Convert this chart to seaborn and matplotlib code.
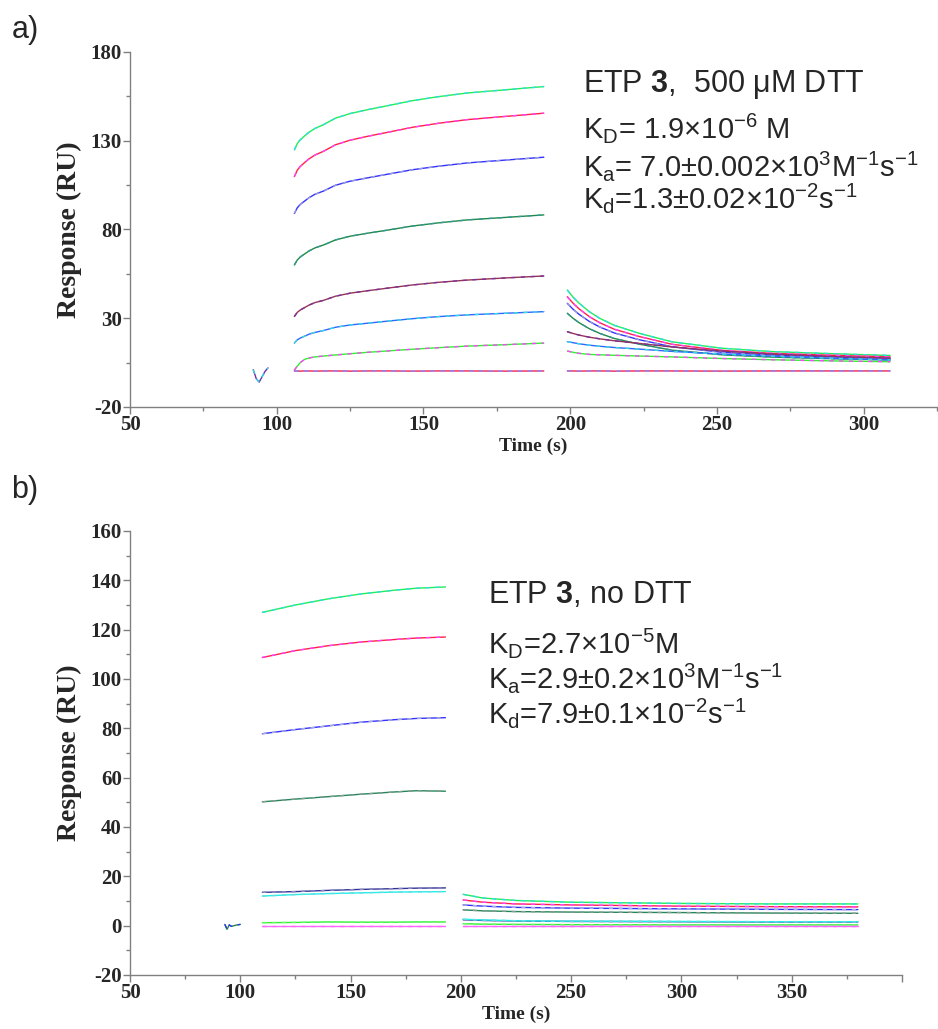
import numpy as np
import pandas as pd
import matplotlib
matplotlib.use("Agg")
import matplotlib.pyplot as plt
import seaborn as sns
from matplotlib.ticker import MultipleLocator, FixedLocator

# ---- panel a: ETP 3 with 500 uM DTT ----
t_blip_a = [92, 93, 94, 95, 96, 97]
blip_a = [1.0, -4.0, -6.0, -3.0, 0.0, 2.0]

t_assoc_a = [106, 107, 108, 109.5, 111, 113, 116, 120, 125, 131, 138, 146, 155, 165, 178, 191]
assoc_a = [
    [124.8, 128.4, 130.5, 132.7, 134.8, 136.9, 139.1, 142.7, 145.3, 147.5, 149.8, 152.5, 154.8, 156.9, 158.7, 160.5],
    [109.8, 113.4, 115.5, 117.7, 119.8, 121.9, 124.1, 127.7, 130.3, 132.5, 134.8, 137.5, 139.8, 141.9, 143.7, 145.5],
    [89.0, 92.2, 94.1, 96.0, 97.9, 99.8, 101.7, 104.9, 107.2, 109.1, 111.2, 113.6, 115.6, 117.5, 119.1, 120.7],
    [60.0, 62.8, 64.5, 66.2, 67.9, 69.6, 71.3, 74.1, 76.2, 77.9, 79.7, 81.9, 83.7, 85.4, 86.8, 88.2],
    [31.0, 33.3, 34.6, 36.0, 37.4, 38.8, 40.1, 42.4, 44.1, 45.5, 47.0, 48.7, 50.2, 51.5, 52.7, 53.8],
    [16.0, 17.8, 18.8, 19.9, 21.0, 22.0, 23.1, 24.9, 26.2, 27.2, 28.4, 29.7, 30.9, 31.9, 32.8, 33.7],
    [0.8, 3.0, 5.0, 6.8, 7.6, 8.2, 8.7, 9.3, 10.0, 10.8, 11.6, 12.5, 13.4, 14.3, 15.1, 16.0],
    [0.3, 0.3, 0.2, 0.3, 0.3, 0.2, 0.3, 0.3, 0.2, 0.3, 0.3, 0.2, 0.3, 0.3, 0.2, 0.3],
]

t_dissoc_a = [199, 201, 203, 206.5, 210, 215, 223.5, 234.7, 251.7, 268.7, 291.5, 309]
dissoc_a = [
    [45.9, 41.8, 38.5, 33.7, 30.0, 26.0, 21.5, 16.7, 13.1, 11.2, 9.9, 9.0],
    [42.1, 38.4, 35.3, 30.9, 27.5, 23.8, 19.7, 15.3, 11.9, 10.2, 9.0, 8.2],
    [38.4, 35.0, 32.2, 28.2, 25.1, 21.7, 17.9, 13.9, 10.8, 9.3, 8.1, 7.4],
    [32.8, 29.9, 27.5, 24.1, 21.5, 18.6, 15.4, 12.0, 9.4, 8.1, 7.1, 6.5],
    [22.4, 21.4, 20.5, 19.3, 18.4, 17.3, 15.8, 13.8, 11.5, 9.8, 8.3, 7.5],
    [16.8, 16.2, 15.6, 14.8, 14.2, 13.5, 12.6, 11.3, 9.8, 8.6, 7.3, 6.5],
    [11.5, 10.8, 10.2, 9.6, 9.4, 9.1, 8.7, 8.2, 7.3, 6.6, 5.9, 5.5],
    [0.3, 0.3, 0.2, 0.3, 0.3, 0.2, 0.3, 0.3, 0.2, 0.3, 0.3, 0.3],
]
colors_a = [
    ("#22ee55", "#33dddd"),
    ("#ff2244", "#ff44ff"),
    ("#3333ff", "#9999dd"),
    ("#228844", "#339999"),
    ("#993355", "#773399"),
    ("#3366ff", "#33dddd"),
    ("#33ee33", "#ff44ff"),
    ("#ee2255", "#8888ff"),
]

# ---- panel b: ETP 3, no DTT ----
t_blip_b = [93, 94, 95, 96, 98, 100]
blip_b = [0.5, -1.5, 0.3, -0.3, 0.2, 0.5]

t_assoc_b = [110, 125, 140, 155, 170, 180, 193]
assoc_b = [
    [127.0, 130.0, 132.5, 134.5, 136.0, 136.8, 137.3],
    [108.7, 111.5, 113.5, 115.0, 116.0, 116.6, 117.0],
    [77.8, 79.5, 81.0, 82.5, 83.5, 84.0, 84.3],
    [50.2, 51.3, 52.3, 53.3, 54.2, 54.7, 54.5],
    [13.5, 13.8, 14.3, 14.7, 15.0, 15.2, 15.3],
    [12.0, 12.6, 13.0, 13.3, 13.6, 13.7, 13.8],
    [1.2, 1.3, 1.5, 1.4, 1.4, 1.5, 1.5],
    [0.0, 0.0, 0.0, 0.0, 0.0, 0.0, 0.0],
]

t_dissoc_b = [201, 210, 225, 250, 300, 340, 380]
dissoc_b = [
    [12.7, 11.2, 10.2, 9.5, 9.0, 8.8, 8.8],
    [10.4, 9.5, 8.8, 8.4, 7.9, 7.7, 7.6],
    [8.4, 7.9, 7.4, 7.1, 6.8, 6.6, 6.5],
    [6.4, 6.0, 5.7, 5.5, 5.3, 5.1, 5.0],
    [2.4, 2.1, 1.9, 1.7, 1.6, 1.5, 1.5],
    [2.6, 2.3, 2.0, 1.8, 1.7, 1.6, 1.6],
    [0.8, 0.6, 0.5, 0.4, 0.3, 0.3, 0.3],
    [0.0, 0.0, 0.0, 0.0, 0.0, 0.0, 0.0],
]
colors_b = [
    ("#22ee55", "#33dddd"),
    ("#ff2244", "#ff44ff"),
    ("#3333ff", "#aaaadd"),
    ("#228855", "#889999"),
    ("#333399", "#8888bb"),
    ("#22eeee", "#66dddd"),
    ("#33ee33", "#66ff66"),
    ("#ff66ff", "#ff66ff"),
]
blip_pair_a = ("#6633aa", "#33dddd")
blip_pair_b = ("#228844", "#3333ff")

sns.set_style("ticks")
plt.rcParams["font.family"] = ["Liberation Serif", "DejaVu Serif"]
plt.rcParams["mathtext.fontset"] = "custom"
plt.rcParams["mathtext.rm"] = "Liberation Sans"
plt.rcParams["mathtext.it"] = "Liberation Sans:italic"
plt.rcParams["mathtext.bf"] = "Liberation Sans:bold"
plt.rcParams["axes.unicode_minus"] = False

AXIS_GRAY = "#808080"
SANS = ["Liberation Sans", "DejaVu Sans"]


def draw_trace(ax, t, y, c1, c2):
    sns.lineplot(x=t, y=y, color=c1, lw=1.0, ax=ax)
    sns.lineplot(x=t, y=y, color=c2, lw=1.0, ax=ax, linestyle=(0, (3, 4)))


def style_axes(ax):
    sns.despine(ax=ax)
    for side in ["left", "bottom"]:
        ax.spines[side].set_color(AXIS_GRAY)
        ax.spines[side].set_linewidth(1.0)
    ax.tick_params(which="major", direction="out", length=5, width=1, color=AXIS_GRAY, pad=1)
    ax.tick_params(which="minor", direction="out", length=3, width=1, color=AXIS_GRAY)
    for lab in ax.get_xticklabels() + ax.get_yticklabels():
        lab.set_fontweight("bold")
        lab.set_fontsize(15)
    ax.set_xlabel("Time (s)", fontsize=14, fontweight="bold", labelpad=2)
    ax.set_ylabel("Response (RU)", fontsize=20, fontweight="bold", labelpad=6)


fig = plt.figure(figsize=(9.38, 10.29), dpi=100)
ax_a = fig.add_axes([0.1386, 0.6045, 0.8604, 0.345])
ax_b = fig.add_axes([0.1386, 0.0525, 0.823, 0.4315])

# panel a
draw_trace(ax_a, t_blip_a, blip_a, *blip_pair_a)
for ys, (c1, c2) in zip(assoc_a, colors_a):
    draw_trace(ax_a, t_assoc_a, ys, c1, c2)
for ys, (c1, c2) in zip(dissoc_a, colors_a):
    draw_trace(ax_a, t_dissoc_a, ys, c1, c2)
ax_a.set_xlim(50, 325)
ax_a.set_ylim(-20, 180)
ax_a.xaxis.set_major_locator(FixedLocator([50, 100, 150, 200, 250, 300]))
ax_a.xaxis.set_minor_locator(FixedLocator([75, 125, 175, 225, 275, 325]))
ax_a.yaxis.set_major_locator(FixedLocator([-20, 30, 80, 130, 180]))
ax_a.yaxis.set_minor_locator(FixedLocator([5, 55, 105, 155]))
style_axes(ax_a)

text_a = [
    (0.887, r"ETP $\mathbf{3}$,  500 μM DTT", 22),
    (0.758, r"K$_\mathrm{D}$= 1.9×10$^{\mathrm{-6}}$ M", 21),
    (0.650, r"K$_\mathrm{a}$= 7.0±0.002×10$^{\mathrm{3}}$M$^{\mathrm{-1}}$s$^{\mathrm{-1}}$", 21),
    (0.560, r"K$_\mathrm{d}$=1.3±0.02×10$^{\mathrm{-2}}$s$^{\mathrm{-1}}$", 21),
]
for yy, s, fs in text_a:
    ax_a.text(0.561, yy, s, transform=ax_a.transAxes, fontsize=fs,
              family=SANS, va="baseline", ha="left")

# panel b
draw_trace(ax_b, t_blip_b, blip_b, *blip_pair_b)
for ys, (c1, c2) in zip(assoc_b, colors_b):
    draw_trace(ax_b, t_assoc_b, ys, c1, c2)
for ys, (c1, c2) in zip(dissoc_b, colors_b):
    draw_trace(ax_b, t_dissoc_b, ys, c1, c2)
ax_b.set_xlim(50, 400)
ax_b.set_ylim(-20, 160)
ax_b.xaxis.set_minor_locator(FixedLocator([75, 125, 175, 225, 275, 325, 375]))
ax_b.yaxis.set_major_locator(MultipleLocator(20))
ax_b.yaxis.set_minor_locator(MultipleLocator(10))
ax_b.set_xticks([50, 100, 150, 200, 250, 300, 350, 400])
ax_b.set_xticklabels(["50", "100", "150", "200", "250", "300", "350", ""])
style_axes(ax_b)

text_b = [
    (0.838, r"ETP $\mathbf{3}$, no DTT", 22),
    (0.725, r"K$_\mathrm{D}$=2.7×10$^{\mathrm{-5}}$M", 21),
    (0.645, r"K$_\mathrm{a}$=2.9±0.2×10$^{\mathrm{3}}$M$^{\mathrm{-1}}$s$^{\mathrm{-1}}$", 21),
    (0.566, r"K$_\mathrm{d}$=7.9±0.1×10$^{\mathrm{-2}}$s$^{\mathrm{-1}}$", 21),
]
for yy, s, fs in text_b:
    ax_b.text(0.464, yy, s, transform=ax_b.transAxes, fontsize=fs,
              family=SANS, va="baseline", ha="left")

fig.text(0.012, 0.971, "a)", fontsize=22, family=SANS, va="center")
fig.text(0.012, 0.524, "b)", fontsize=22, family=SANS, va="center")

fig.savefig("out.png", dpi=100)
